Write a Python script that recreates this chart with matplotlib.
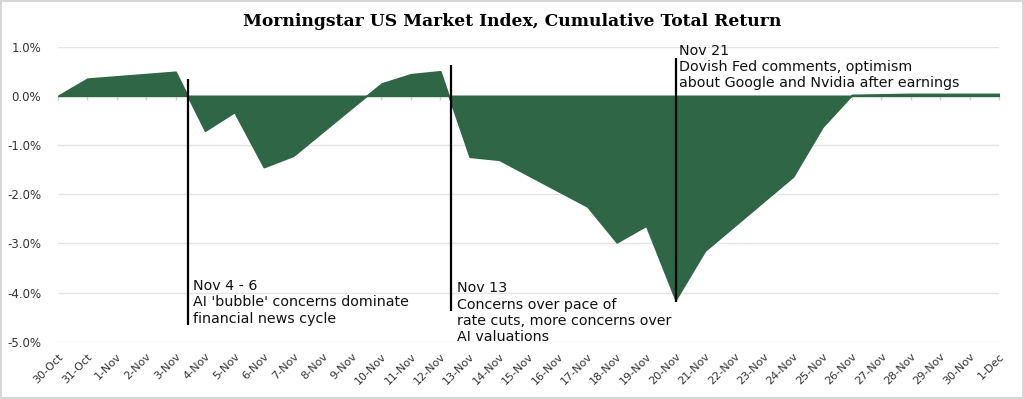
import datetime as dt
import matplotlib
matplotlib.use("Agg")
import matplotlib.pyplot as plt
import matplotlib.dates as mdates
from matplotlib.ticker import FuncFormatter, MultipleLocator

# trading days and cumulative total return (%)
dates = ["2025-10-30", "2025-10-31", "2025-11-03", "2025-11-04", "2025-11-05",
         "2025-11-06", "2025-11-07", "2025-11-10", "2025-11-11", "2025-11-12",
         "2025-11-13", "2025-11-14", "2025-11-17", "2025-11-18", "2025-11-19",
         "2025-11-20", "2025-11-21", "2025-11-24", "2025-11-25", "2025-11-26",
         "2025-11-28", "2025-12-01"]
returns = [0.00, 0.35, 0.49, -0.71, -0.33,
           -1.45, -1.22, 0.25, 0.44, 0.50,
           -1.24, -1.30, -2.25, -2.98, -2.64,
           -4.15, -3.15, -1.64, -0.63, 0.02,
           0.04, 0.04]

event_titles = ["Nov 4 - 6", "Nov 13", "Nov 21"]
event_texts = ["AI 'bubble' concerns dominate\nfinancial news cycle",
               "Concerns over pace of\nrate cuts, more concerns over\nAI valuations",
               "Dovish Fed comments, optimism\nabout Google and Nvidia after earnings"]

title = "Morningstar US Market Index, Cumulative Total Return"

GREEN = "#2e6646"
GRID = "#e4e4e4"

x = [dt.datetime.strptime(d, "%Y-%m-%d") for d in dates]

fig = plt.figure(figsize=(10.24, 3.99), dpi=100)
fig.patch.set_edgecolor("#d6d6d6")
fig.patch.set_linewidth(1.5)
ax = fig.add_axes([0.0566, 0.1436, 0.919, 0.7394])

ax.fill_between(x, returns, 0, color=GREEN, lw=1.2, zorder=2)

ax.set_xlim(x[0], x[-1])
ax.set_ylim(-5, 1)
ax.yaxis.set_major_locator(MultipleLocator(1))
ax.yaxis.set_major_formatter(FuncFormatter(lambda v, p: f"{v:.1f}%"))
ax.grid(axis="y", color=GRID, lw=1, zorder=0)
ax.set_axisbelow(True)
for s in ax.spines.values():
    s.set_visible(False)
ax.tick_params(axis="y", length=0, pad=12, labelsize=8.5, labelcolor="#333333")

ax.xaxis.set_major_locator(mdates.DayLocator())
ax.xaxis.set_major_formatter(FuncFormatter(
    lambda v, p: f"{mdates.num2date(v).day}-{mdates.num2date(v).strftime('%b')}"))
ax.tick_params(axis="x", length=0, pad=7, labelsize=8, labelcolor="#333333")
for lab in ax.get_xticklabels():
    lab.set_rotation(45)
    lab.set_ha("right")
    lab.set_rotation_mode("anchor")

# zero line with small ticks
zero = ax.secondary_xaxis(5 / 6)
zero.xaxis.set_major_locator(mdates.DayLocator())
zero.tick_params(axis="x", direction="in", length=3, color="#d0d0d0",
                 labelbottom=False, labeltop=False, width=1)
zero.spines["top"].set_visible(False)
zero.spines["bottom"].set_color("#d8d8d8")
zero.spines["bottom"].set_linewidth(1)

# event markers
d0 = mdates.date2num(x[0])
ev_x = [d0 + 4.43, d0 + 13.37, d0 + 21.0]
ev_y = [(-4.67, 0.34), (-4.37, 0.63), (-4.20, 0.78)]
ev_tx = [d0 + 4.6, d0 + 13.56, d0 + 21.13]
ev_ty = [-4.20, -4.41, 0.59]
for i in range(3):
    ax.vlines(ev_x[i], ev_y[i][0], ev_y[i][1], color="black", lw=1.6, zorder=4)
    ax.text(ev_tx[i], ev_ty[i], event_titles[i] + "\n" + event_texts[i],
            fontsize=10.3, va="center", ha="left", color="#111111",
            linespacing=1.2, zorder=5)

fig.text(0.5, 0.947, title, ha="center", va="center", fontsize=12.3,
         fontweight="bold", family="DejaVu Serif")

fig.savefig("out.png", dpi=100, edgecolor=fig.get_edgecolor())
